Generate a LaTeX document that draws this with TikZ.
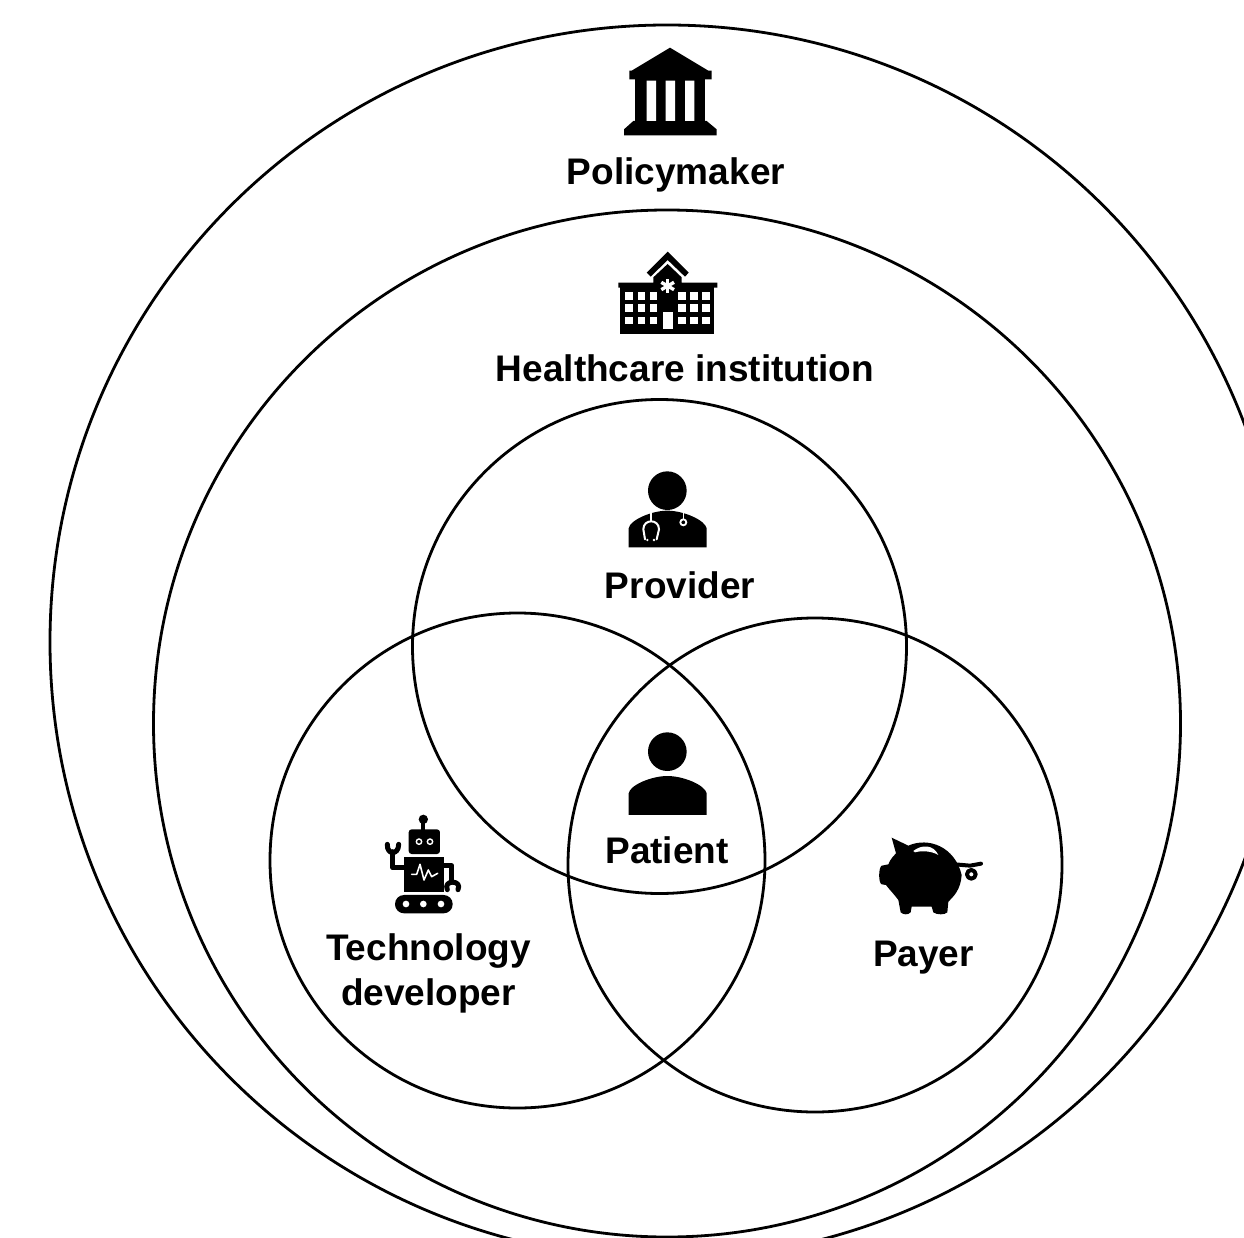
\documentclass[tikz,border=0pt]{standalone}
\usepackage{fontspec}
\setmainfont{Liberation Sans}
\tikzset{
  ring/.style={draw=black,line width=2.8pt},
  lbl/.style={anchor=base,inner sep=0pt,font=\fontsize{37}{37}\selectfont\bfseries,text=black},
  icon/.style={x=0.3333pt,y=-0.3333pt},
  bline/.style={draw=black,line cap=round,line join=round}
}
\begin{document}
\begin{tikzpicture}[x=1pt,y=-1pt]
\useasboundingbox (0,0) rectangle (1244,1238);
\begin{scope}
\clip (0,0) rectangle (1244,1238);
\draw[ring] (667,642) circle [radius=617];
\draw[ring] (667,723.5) circle [radius=513.5];
\draw[ring] (659.5,646.5) circle [radius=247];
\draw[ring] (517.5,860.5) circle [radius=247.5];
\draw[ring] (815,865) circle [radius=247];
\end{scope}
% bank
\begin{scope}[shift={(600,30)},icon]
\fill (210,53) -- (325,122) -- (335,122) -- (335,148) -- (315,148) -- (315,273) -- (320,273) -- (350,298) -- (350,316) -- (72,316) -- (72,298) -- (100,273) -- (105,273) -- (105,148) -- (88,148) -- (88,122) -- (95,122) -- cycle;
\fill[white] (140,152) rectangle (168,273) (197,152) rectangle (225,273) (255,152) rectangle (283,273);
\end{scope}
% hospital
\begin{scope}[shift={(600,240)},icon]
\fill (140,98) -- (203,35) -- (266,98) -- (255,110) -- (203,60) -- (152,110) -- cycle;
\fill (160,128) -- (160,112) -- (203,72) -- (245,112) -- (245,128) -- (352,128) -- (352,143) -- (342,143) -- (342,282) -- (60,282) -- (60,143) -- (55,143) -- (55,128) -- cycle;
\foreach \wx in {76,113,149,235,271,307}
  \foreach \wy in {157,193,230}
    \fill[white] (\wx,\wy) rectangle +(22,22);
\fill[white] (188,216) rectangle (218,267);
\foreach \ang in {90,150,210,270,330,30}
  \draw[white,line width=3.4pt] (203,138) -- +({\ang}:22);
\end{scope}
% provider
\begin{scope}[shift={(610,460)},icon]
\fill (172,92) circle [radius=58];
\fill (56,262) -- (56,205) .. controls (60,180) and (125,152) .. (172,152) .. controls (220,152) and (285,180) .. (290,205) -- (290,262) -- cycle;
\draw[white,line width=1.8pt] (122,150) -- (122,183);
\draw[white,line width=2pt,line cap=round] (105,238) -- (100,208) .. controls (100,176) and (147,176) .. (147,208) -- (140,238);
\fill[white] (112,240) circle [radius=4] (132,240) circle [radius=4];
\draw[white,line width=1.6pt] (220,150) -- (220,176);
\draw[white,line width=1.8pt] (220,187) circle [radius=9];
\end{scope}
% patient
\begin{scope}[shift={(610,725)},icon]
\fill (172,80) circle [radius=58];
\fill (56,270) -- (56,205) .. controls (60,180) and (125,153) .. (172,153) .. controls (220,153) and (285,180) .. (290,205) -- (290,270) -- cycle;
\end{scope}
% robot
\begin{scope}[shift={(370,805)},icon]
\fill (160,43) circle [radius=14];
\fill (154,43) rectangle (166,80);
\fill[rounded corners=3pt] (116,73) rectangle (210,147);
\draw[white,line width=1.4pt] (147,110) circle [radius=8] (180,110) circle [radius=8];
\fill (103,155) rectangle (221,260);
\draw[white,line width=1.6pt,line join=round,line cap=round] (125,208) -- (140,208) -- (150,178) -- (162,225) -- (175,195) -- (185,215) -- (203,205);
\draw[bline,line width=5pt] (103,188) -- (68,188) -- (68,140);
\draw[bline,line width=5pt] (52,118) .. controls (50,151) and (86,151) .. (86,118);
\draw[bline,line width=5pt] (221,182) -- (245,182) -- (245,228);
\draw[bline,line width=5pt] (232,254) .. controls (218,224) and (278,224) .. (264,254);
\fill[rounded corners=9pt] (75,270) rectangle (248,325);
\fill[white] (108,297) circle [radius=10] (160,297) circle [radius=10] (213,297) circle [radius=10];
\end{scope}
% pig
\begin{scope}[shift={(870,825)},icon]
\fill (65,38) -- (115,62) .. controls (175,35) and (255,65) .. (275,150) .. controls (272,195) and (250,215) .. (235,230) -- (232,262) .. controls (225,270) and (200,270) .. (190,262) -- (185,245) -- (125,245) -- (122,262) .. controls (115,270) and (100,270) .. (92,262) -- (85,225) .. controls (70,205) and (55,190) .. (48,180) -- (35,178) .. controls (25,175) and (25,128) .. (35,122) -- (55,118) .. controls (62,100) and (72,92) .. (78,85) -- cycle;
\fill[white] (130,78) .. controls (155,58) and (190,58) .. (205,90) .. controls (185,78) and (155,76) .. (135,82) -- cycle;
\draw[bline,line width=4pt] (255,118) -- (300,122) -- (333,116);
\draw[bline,line width=4pt] (304,148) circle [radius=13];
\end{scope}
\node[lbl] (policy) at (676,185) {Policymaker};
\node[lbl] (health) at (685,381) {Healthcare institution};
\node[lbl] (prov) at (680,598) {Provider};
\node[lbl] (pat) at (667,863) {Patient};
\node[lbl] (tech) at (428.5,960) {Technology};
\node[lbl] (dev) at (428.5,1005) {developer};
\node[lbl] (pay) at (923.5,966) {Payer};
\end{tikzpicture}
\end{document}
